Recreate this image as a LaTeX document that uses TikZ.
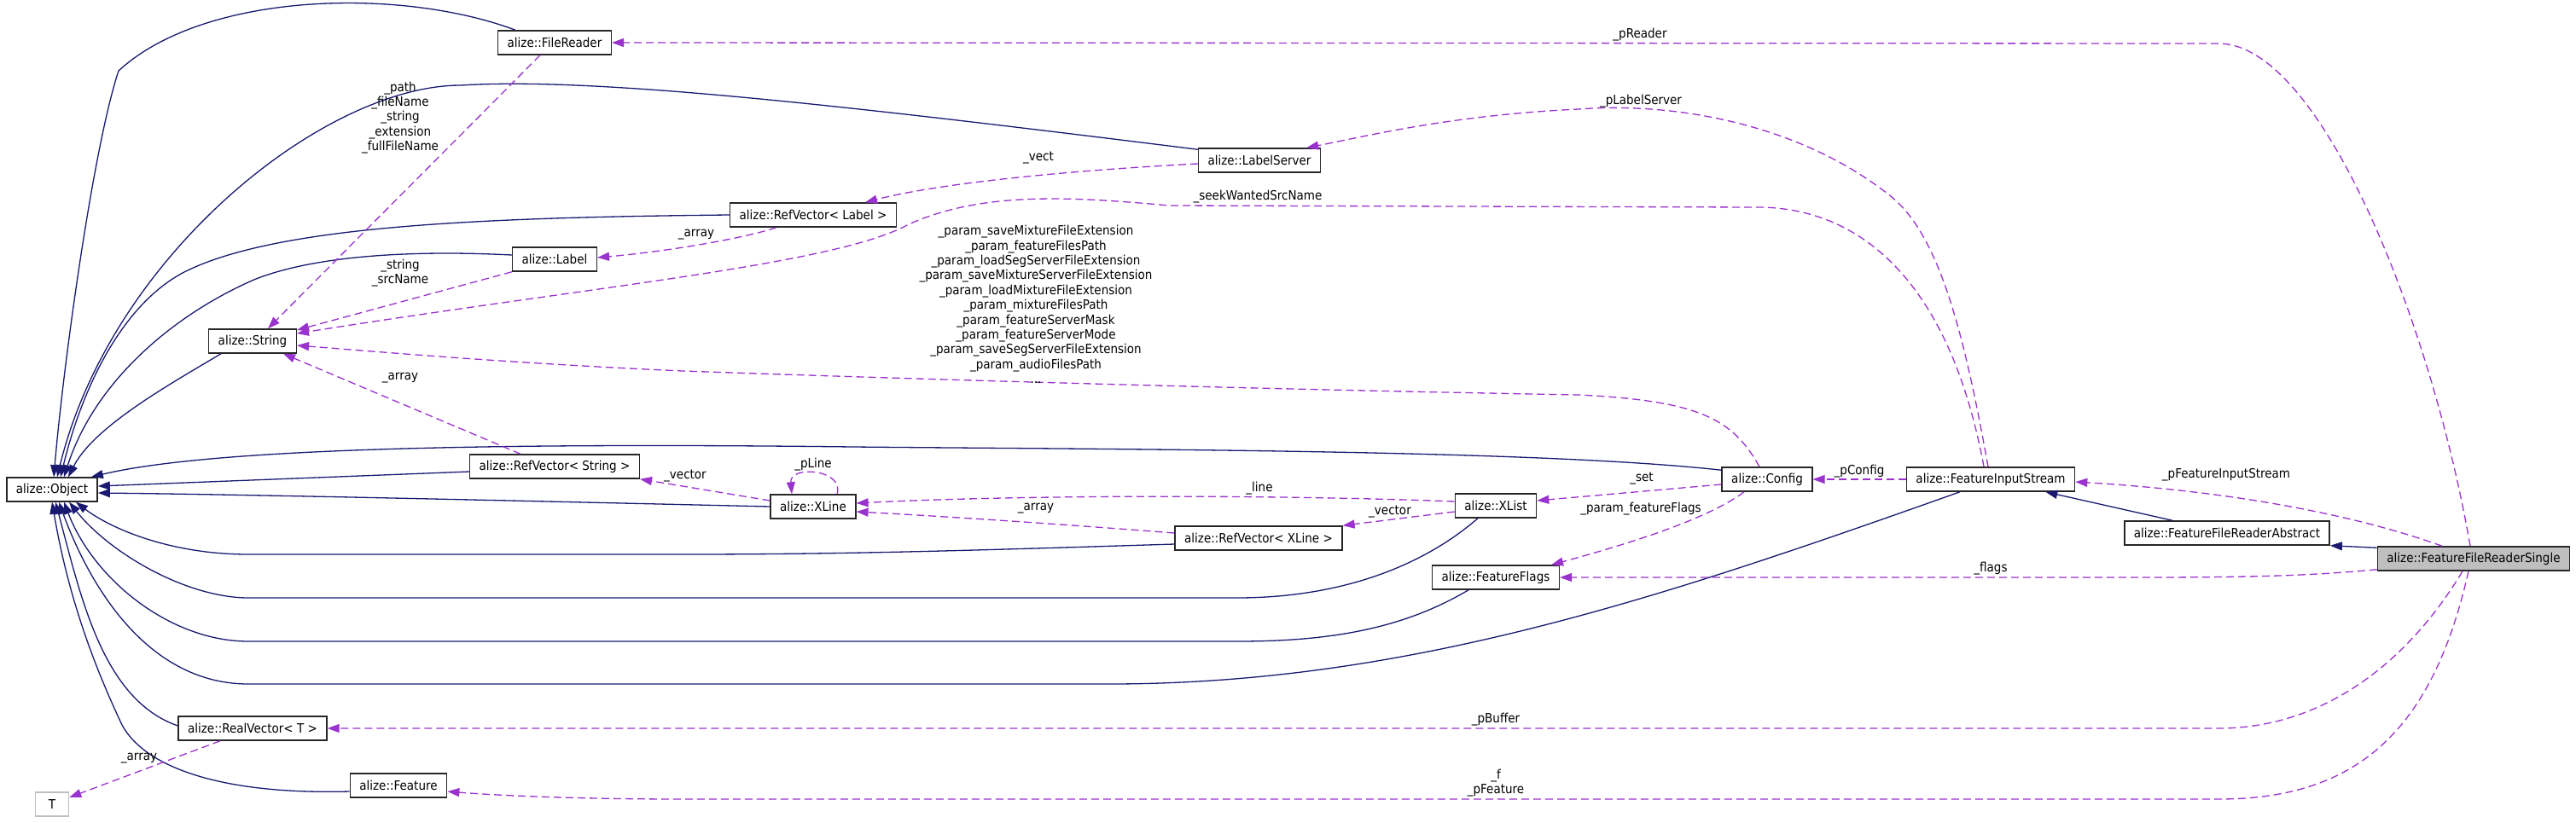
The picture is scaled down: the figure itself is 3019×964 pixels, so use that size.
\documentclass[tikz,border=0pt]{standalone}
\usepackage{fontspec}
\setmainfont{DejaVu Sans}[FakeStretch=0.9]
\usetikzlibrary{arrows.meta}
\definecolor{inhblue}{HTML}{191970}
\definecolor{usepurple}{HTML}{9A32CD}

\begin{document}
\begin{tikzpicture}[x=1pt,y=-1pt,
  font=\fontsize{15}{17.4}\selectfont,
  cls/.style={draw=black!85, fill=white, line width=1.5pt,
    inner xsep=11pt, inner ysep=0pt, minimum height=28pt},
  clsmain/.style={cls, fill=black!25},
  clsgray/.style={cls, draw=black!25, minimum width=39pt},
  inh/.style={draw=inhblue, line width=1.3pt,
    -{Triangle[length=14pt,width=10pt]}},
  use/.style={draw=usepurple, line width=1.3pt, dash pattern=on 9pt off 5pt,
    -{Triangle[length=14pt,width=10pt]}},
  elabel/.style={inner sep=0pt, align=center}]

\useasboundingbox (0,0) rectangle (3019,964);

% =====================
% Classes
% =====================
\node[cls] (obj) at (61,574) {alize::Object};
\node[cls] (fr) at (650,50) {alize::FileReader};
\node[cls] (ls) at (1476,188) {alize::LabelServer};
\node[cls] (rvl) at (953,252) {alize::RefVector< Label >};
\node[cls] (lbl) at (650,304) {alize::Label};
\node[cls] (str) at (296,400) {alize::String};
\node[cls] (rvs) at (650,547) {alize::RefVector< String >};
\node[cls] (xln) at (953,594) {alize::XLine};
\node[cls] (xls) at (1753,593) {alize::XList};
\node[cls] (rvx) at (1475,631) {alize::RefVector< XLine >};
\node[cls] (cfg) at (2071,562) {alize::Config};
\node[cls] (fis) at (2333,562) {alize::FeatureInputStream};
\node[cls] (ffl) at (1753,677) {alize::FeatureFlags};
\node[cls] (ffra) at (2610,625) {alize::FeatureFileReaderAbstract};
\node[clsmain] (ffrs) at (2899,655) {alize::FeatureFileReaderSingle};
\node[cls] (rv) at (296,854) {alize::RealVector< T >};
\node[clsgray] (tt) at (61,943) {T};
\node[cls] (feat) at (467,921) {alize::Feature};

% =====================
% Inheritance
% =====================
\draw[inh] ([shift={(-46,0)}]fr.north) .. controls (470,-15) and (240,-10) .. (139,83)
  .. controls (110,170) and (75,420) .. ([shift={(2,0)}]obj.north);
\draw[inh] ([shift={(0,2)}]ls.north west) .. controls (1000,125) and (700,90) .. (540,100)
  .. controls (380,100) and (130,300) .. ([shift={(6,0)}]obj.north);
\draw[inh] (rvl.west) .. controls (560,255) and (320,265) .. (214,320)
  .. controls (140,360) and (95,460) .. ([shift={(10,0)}]obj.north);
\draw[inh] ([shift={(0,-5)}]lbl.west) .. controls (480,293) and (370,300) .. (300,327)
  .. controls (200,370) and (110,450) .. ([shift={(14,0)}]obj.north);
\draw[inh] ([shift={(15,0)}]str.south west) .. controls (200,450) and (110,500)
  .. ([shift={(19,0)}]obj.north);
\draw[inh] ([shift={(0,4)}]cfg.north west) .. controls (1800,527) and (1300,527) .. (1000,524)
  .. controls (500,518) and (230,530) .. ([shift={(-8,0)}]obj.north east);
\draw[inh] ([shift={(0,6)}]rvs.west) -- ([shift={(0,-4)}]obj.east);
\draw[inh] (xln.west) .. controls (600,587) and (300,580) .. ([shift={(0,4)}]obj.east);
\draw[inh] ([shift={(0,7)}]rvx.west) .. controls (1150,645) and (1000,650) .. (800,650)
  -- (291,650) .. controls (200,650) and (130,620) .. ([shift={(28,0)}]obj.south);
\draw[inh] ([shift={(-21,0)}]xls.south) .. controls (1660,670) and (1560,701) .. (1450,701)
  -- (291,701) .. controls (220,701) and (130,650) .. ([shift={(20,0)}]obj.south);
\draw[inh] ([shift={(-32,0)}]ffl.south) .. controls (1640,740) and (1550,752) .. (1450,752)
  -- (291,752) .. controls (200,752) and (110,680) .. ([shift={(14,0)}]obj.south);
\draw[inh] ([shift={(-36,0)}]fis.south) .. controls (1950,700) and (1650,802) .. (1300,802)
  -- (291,802) .. controls (180,802) and (110,700) .. ([shift={(8,0)}]obj.south);
\draw[inh] ([shift={(0,-3)}]rv.west) .. controls (120,820) and (95,700)
  .. ([shift={(4,0)}]obj.south);
\draw[inh] ([shift={(0,7)}]feat.west) .. controls (260,932) and (170,900) .. (143,850)
  .. controls (110,780) and (80,700) .. (obj.south);
\draw[inh] ([shift={(-64,0)}]ffra.north) -- ([shift={(-35,0)}]fis.south east);
\draw[inh] ([shift={(0,2)}]ffrs.north west) -- (ffra.south east);

% =====================
% Usage
% =====================
\draw[use] ([shift={(-4,0)}]ffrs.north) .. controls (2850,380) and (2720,51) .. (2600,51)
  -- (fr.east);
\draw[use] ([shift={(-37,0)}]ffrs.north) .. controls (2750,600) and (2600,575)
  .. ([shift={(0,3)}]fis.east);
\draw[use] ([shift={(0,-2)}]ffrs.south west) .. controls (2700,676) and (2620,677) .. (2500,677)
  -- (ffl.east);
\draw[use] ([shift={(-13,0)}]ffrs.south) .. controls (2820,780) and (2720,854) .. (2600,854)
  -- (rv.east);
\draw[use] ([shift={(-6,0)}]ffrs.south) .. controls (2850,860) and (2760,937) .. (2600,937)
  -- (800,937) .. controls (700,937) and (600,934) .. ([shift={(0,7)}]feat.east);
\draw[use] ([shift={(-3,0)}]fis.north) .. controls (2300,380) and (2270,270) .. (2212,227)
  .. controls (2100,140) and (1950,120) .. (1850,128)
  .. controls (1700,135) and (1600,160) .. ([shift={(-17,0)}]ls.north east);
\draw[use] ([shift={(-8,0)}]fis.north) .. controls (2285,330) and (2180,243) .. (2060,243)
  -- (1370,241) .. controls (1250,230) and (1150,225) .. (1065,263)
  .. controls (980,310) and (700,335) .. ([shift={(0,-9)}]str.east);
\draw[use] ([shift={(-9,0)}]cfg.north) .. controls (2030,490) and (1990,470) .. (1850,463)
  .. controls (1400,455) and (1000,442) .. (800,435)
  .. controls (600,426) and (450,413) .. ([shift={(0,5)}]str.east);
\draw[use] ([shift={(-27,0)}]cfg.south) .. controls (2000,610) and (1900,640)
  .. ([shift={(-10,0)}]ffl.north east);
\draw[use] ([shift={(0,6)}]cfg.west) -- ([shift={(0,-6)}]xls.east);
\draw[use] (fis.west) -- (cfg.east);
\draw[use] ([shift={(0,-5)}]xls.west) .. controls (1500,580) and (1200,580)
  .. ([shift={(0,-4)}]xln.east);
\draw[use] ([shift={(0,7)}]xls.west) -- (rvx.north east);
\draw[use] ([shift={(0,-6)}]rvx.west) .. controls (1250,615) and (1100,605)
  .. ([shift={(0,6)}]xln.east);
\draw[use] ([shift={(28,0)}]xln.north) .. controls (990,550) and (925,545)
  .. ([shift={(-25,0)}]xln.north);
\draw[use] ([shift={(0,-7)}]xln.west) -- (rvs.south east);
\draw[use] ([shift={(-40,0)}]rvs.north) -- ([shift={(36,0)}]str.south);
\draw[use] ([shift={(0,4)}]ls.west) .. controls (1250,200) and (1100,215)
  .. ([shift={(61,0)}]rvl.north);
\draw[use] ([shift={(-43,0)}]rvl.south) .. controls (870,280) and (780,295)
  .. ([shift={(0,-2)}]lbl.east);
\draw[use] (lbl.south west) -- ([shift={(0,-13)}]str.east);
\draw[use] ([shift={(-17,0)}]fr.south) -- ([shift={(18,0)}]str.north);
\draw[use] ([shift={(-38,0)}]rv.south) -- ([shift={(0,-8)}]tt.east);

% =====================
% Member names
% =====================
\node[elabel] (lbPReader) at (1922,41) {\_pReader};
\node[elabel] (lbPLabelServer) at (1923,119) {\_pLabelServer};
\node[elabel] (lbVect) at (1217,185) {\_vect};
\node[elabel] (lbSeek) at (1474,231) {\_seekWantedSrcName};
\node[elabel] (lbParams) at (1214,357) {\_param\_saveMixtureFileExtension\\
  \_param\_featureFilesPath\\ \_param\_loadSegServerFileExtension\\
  \_param\_saveMixtureServerFileExtension\\ \_param\_loadMixtureFileExtension\\
  \_param\_mixtureFilesPath\\ \_param\_featureServerMask\\
  \_param\_featureServerMode\\ \_param\_saveSegServerFileExtension\\
  \_param\_audioFilesPath\\ ...};
\node[elabel] (lbPath) at (469,138) {\_path\\ \_fileName\\ \_string\\ \_extension\\ \_fullFileName};
\node[elabel] (lbSrc) at (469,320) {\_string\\ \_srcName};
\node[elabel] (lbArrStr) at (469,443) {\_array};
\node[elabel] (lbArrLbl) at (816,275) {\_array};
\node[elabel] (lbVecStr) at (803,558) {\_vector};
\node[elabel] (lbPLine) at (953,545) {\_pLine};
\node[elabel] (lbLine) at (1476,573) {\_line};
\node[elabel] (lbArrXLine) at (1214,596) {\_array};
\node[elabel] (lbVecXLine) at (1629,600) {\_vector};
\node[elabel] (lbSet) at (1924,561) {\_set};
\node[elabel] (lbFlagsCfg) at (1923,597) {\_param\_featureFlags};
\node[elabel] (lbPConfig) at (2179,553) {\_pConfig};
\node[elabel] (lbPFis) at (2609,557) {\_pFeatureInputStream};
\node[elabel] (lbFlags) at (2333,667) {\_flags};
\node[elabel] (lbPBuffer) at (1753,844) {\_pBuffer};
\node[elabel] (lbPFeature) at (1753,918) {\_f\\ \_pFeature};
\node[elabel] (lbArrT) at (163,889) {\_array};

\end{tikzpicture}
\end{document}
